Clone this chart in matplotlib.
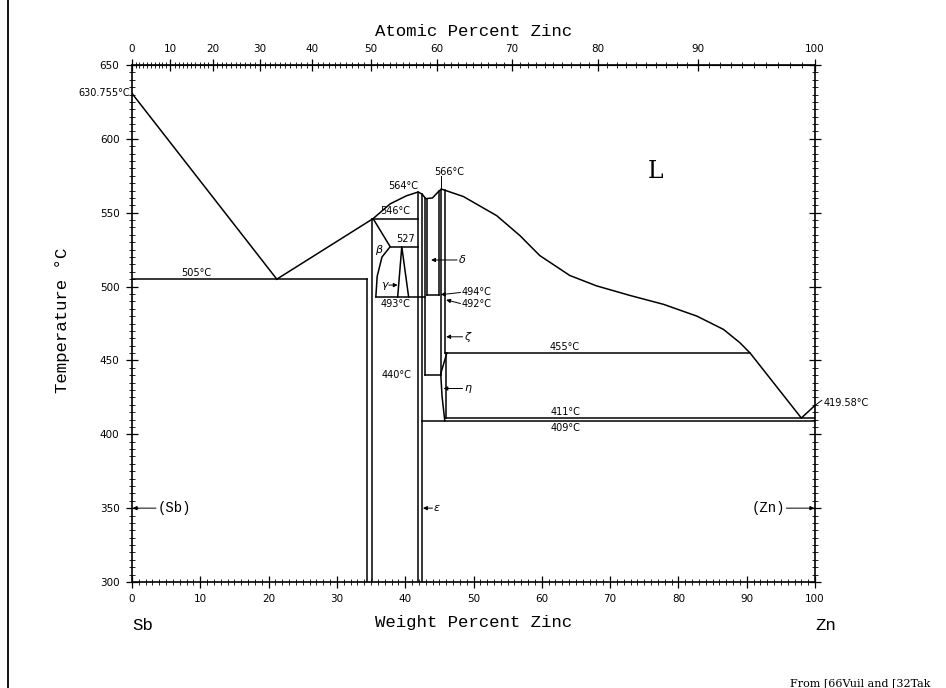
import numpy as np
import matplotlib.pyplot as plt
from matplotlib.lines import Line2D

plt.rcParams['font.family'] = ['DejaVu Sans']
MONO = ['Liberation Mono', 'DejaVu Sans Mono']

# ---- phase diagram data (weight % Zn, temperature °C) ----
# liquidus, Sb side
liq_sb_x = [0, 21.2]
liq_sb_t = [630.755, 505]
# liquidus from eutectic over ZnSb / epsilon to the 566 maximum
liq_mid_x = [21.2, 35.3, 37.8, 40.2, 41.9, 42.5, 43.0, 44.0, 44.8, 45.3]
liq_mid_t = [505, 546, 556, 561.5, 564, 562.5, 559.5, 560, 564, 566]
# liquidus, Zn side
liq_zn_x = [45.3, 48.5, 53.4, 56.8, 59.7, 64.1, 68.0, 72.9, 77.8, 82.7, 86.6, 89.0, 90.5, 98.0, 100]
liq_zn_t = [566, 561, 548, 534.5, 521, 507.5, 500.5, 494, 488, 480, 471, 462, 455, 411, 419.58]

# horizontal invariant lines
iso_t = [505, 546, 527, 493, 494, 440, 455, 411, 409]
iso_x0 = [0, 35.1, 37.8, 35.7, 43.2, 42.9, 45.8, 45.8, 42.5]
iso_x1 = [34.4, 41.9, 41.9, 42.9, 45.0, 45.2, 90.5, 100, 100]

# vertical phase boundaries
vert_x = [34.4, 35.1, 41.9, 42.5, 42.9, 43.2, 45.0, 45.2, 45.8, 46.0]
vert_t0 = [300, 300, 300, 300, 440, 494, 494, 440, 455, 411]
vert_t1 = [505, 546, 564, 562.5, 560, 559.6, 564.8, 565.6, 565.2, 455]

# beta boundary, gamma wedge, eta boundary
beta_x = [35.3, 37.8, 36.6, 35.9, 35.7]
beta_t = [546, 527, 520, 507, 493]
gam_x = [38.9, 39.5, 40.5]
gam_t = [493, 527, 493]
eta_x = [46.1, 45.2, 45.4, 45.8]
eta_t = [455, 441, 425.5, 409]

# temperature labels
lab_txt = ['630.755°C', '505°C', '546°C', '527', '564°C', '493°C', '440°C',
           '455°C', '411°C', '409°C']
lab_x = [-0.3, 9.4, 38.6, 40.1, 39.7, 38.6, 38.7, 63.4, 63.4, 63.4]
lab_t = [630.755, 506, 547.5, 528.5, 565, 491.5, 440, 456, 412, 407.5]
lab_ha = ['right', 'center', 'center', 'center', 'center', 'center', 'center',
          'center', 'center', 'center']
lab_va = ['center', 'bottom', 'bottom', 'bottom', 'bottom', 'top', 'center',
          'bottom', 'bottom', 'top']

# labels with arrows: text, text pos, arrow tip
arr_txt = ['δ', '494°C', '492°C', 'ζ', 'η', 'ε', '(Sb)', '(Zn)', 'γ']
arr_x = [47.8, 48.3, 48.3, 48.6, 48.6, 44.2, 3.7, 95.6, 37.0]
arr_t = [518, 496, 488.5, 466, 431, 350, 350, 350, 501]
arr_tx = [43.8, 45.2, 46.0, 46.0, 45.6, 42.6, 0.1, 99.9, 38.9]
arr_tt = [518, 494.5, 491, 466, 431, 350, 350, 350, 501]
arr_ha = ['left', 'left', 'left', 'left', 'left', 'left', 'left', 'right', 'center']

# axis ticks
wt_ticks = np.arange(0, 101, 10)
at_ticks = np.arange(0, 101, 10)
t_ticks = np.arange(300, 651, 50)


def wt2at(w):
    w = np.asarray(w, dtype=float)
    a = w / 65.38
    b = (100 - w) / 121.76
    return 100 * a / (a + b)


def at2wt(a):
    a = np.asarray(a, dtype=float)
    return 100 * a * 65.38 / (a * 65.38 + (100 - a) * 121.76)


fig = plt.figure(figsize=(9.46, 6.88), dpi=100)
ax = fig.add_axes([132 / 946, 106 / 688, 683 / 946, 517 / 688])
ax.set_xlim(0, 100)
ax.set_ylim(300, 650)

lw = 1.1
ax.plot(liq_sb_x, liq_sb_t, 'k-', lw=lw)
ax.plot(liq_mid_x, liq_mid_t, 'k-', lw=lw)
ax.plot(liq_zn_x, liq_zn_t, 'k-', lw=lw)
for t, x0, x1 in zip(iso_t, iso_x0, iso_x1):
    ax.plot([x0, x1], [t, t], 'k-', lw=lw)
for x, t0, t1 in zip(vert_x, vert_t0, vert_t1):
    ax.plot([x, x], [t0, t1], 'k-', lw=lw)
ax.plot(beta_x, beta_t, 'k-', lw=lw)
ax.plot(gam_x, gam_t, 'k-', lw=lw)
ax.plot(eta_x, eta_t, 'k-', lw=lw)

for s, x, t, ha, va in zip(lab_txt, lab_x, lab_t, lab_ha, lab_va):
    ax.text(x, t, s, fontsize=7, ha=ha, va=va, clip_on=False)

# 566 maximum with its leader
ax.text(46.4, 574, '566°C', fontsize=7, ha='center', va='bottom')
ax.plot([45.3, 45.3], [566, 575], 'k-', lw=0.7)
# 419.58 Zn melting point
ax.text(101.3, 421, '419.58°C', fontsize=7, ha='left', va='center', clip_on=False)
ax.plot([100, 101.0], [419.58, 423], 'k-', lw=0.7, clip_on=False)

for s, x, t, tx, tt, ha in zip(arr_txt, arr_x, arr_t, arr_tx, arr_tt, arr_ha):
    if s in ('(Sb)', '(Zn)'):
        ax.text(x, t, s, fontsize=10, ha=ha, va='center', family=MONO)
    elif len(s) == 1:
        ax.text(x, t, s, fontsize=8, ha=ha, va='center', style='italic')
    else:
        ax.text(x, t, s, fontsize=7, ha=ha, va='center')
    if s == 'γ':
        sx = x + 0.6
    else:
        sx = x - 0.2 if ha == 'left' else x + 0.2
    ax.annotate('', xy=(tx, tt), xytext=(sx, t),
                arrowprops=dict(arrowstyle='-|>', lw=0.7, color='k', mutation_scale=6,
                                shrinkA=0, shrinkB=0))

ax.text(36.1, 525, 'β', fontsize=8, ha='center', va='center', style='italic')
ax.text(76.7, 578, 'L', fontsize=17, ha='center', va='center', family=['DejaVu Serif'])

# ticks
ax.set_xticks(wt_ticks)
ax.set_xticks(np.arange(0, 101, 1), minor=True)
ax.set_yticks(t_ticks)
ax.set_yticks(np.arange(300, 651, 5), minor=True)
ax.tick_params(which='both', direction='inout', right=True, top=False, labelsize=7.5)
ax.tick_params(which='major', length=8, width=0.9, pad=5)
ax.tick_params(which='minor', length=4, width=0.6)
for sp in ax.spines.values():
    sp.set_linewidth(1.2)

sec = ax.secondary_xaxis('top', functions=(wt2at, at2wt))
sec.set_xticks(at_ticks)
sec.set_xticks(np.arange(0, 101, 1), minor=True)
sec.tick_params(which='both', direction='inout', labelsize=7.5)
sec.tick_params(which='major', length=8, width=0.9, pad=4)
sec.tick_params(which='minor', length=4, width=0.6)

# axis titles
fig.text(474 / 946, 1 - 32 / 688, 'Atomic Percent Zinc', fontsize=12.5, ha='center', va='center', family=MONO)
fig.text(474 / 946, 1 - 622 / 688, 'Weight Percent Zinc', fontsize=12.5, ha='center', va='center', family=MONO)
fig.text(62 / 946, 1 - 320 / 688, 'Temperature °C', fontsize=12.5, ha='center', va='center',
         rotation=90, family=MONO)
fig.text(143 / 946, 1 - 626 / 688, 'Sb', fontsize=12.5, ha='center', va='center', family=MONO)
fig.text(826 / 946, 1 - 626 / 688, 'Zn', fontsize=12.5, ha='center', va='center', family=MONO)
fig.text(790 / 946, 1 - 683 / 688, 'From [66Vuil and [32Tak', fontsize=8, ha='left', va='center',
         family=['DejaVu Serif'])

# page border at the left
fig.add_artist(Line2D([8 / 946, 8 / 946], [0, 1], color='k', lw=1.3))

fig.savefig('out.png', dpi=100)
